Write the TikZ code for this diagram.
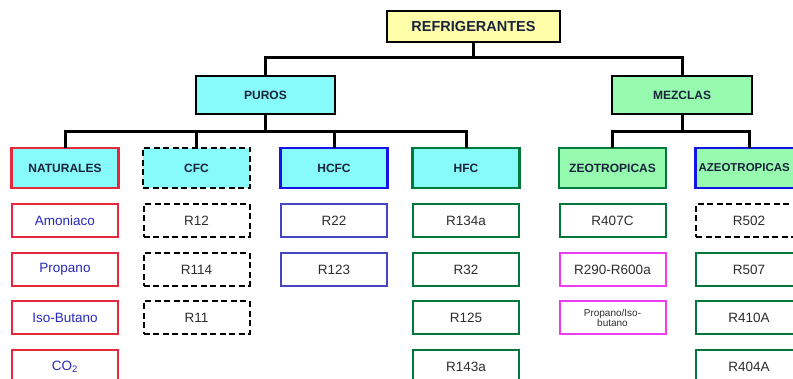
\documentclass[tikz,border=0pt]{standalone}
\usepackage{fontspec}
\setmainfont{Liberation Sans}

\definecolor{ylwfill}{RGB}{255,255,170}
\definecolor{cyanfill}{RGB}{135,250,250}
\definecolor{mintfill}{RGB}{150,250,175}
\definecolor{redline}{RGB}{230,40,60}
\definecolor{blueline}{RGB}{20,20,230}
\definecolor{slateline}{RGB}{70,70,190}
\definecolor{greenline}{RGB}{0,120,60}
\definecolor{magline}{RGB}{240,60,240}
\definecolor{headtext}{RGB}{25,35,60}
\definecolor{itemtext}{RGB}{45,45,45}
\definecolor{bluetext}{RGB}{40,40,190}

\tikzset{
  box/.style={draw, line width=2.8pt, minimum width=107pt, minimum height=40pt,
    inner sep=0pt, text=headtext, font=\fontsize{12}{13}\selectfont\bfseries},
  item/.style={draw, line width=2pt, fill=white, minimum width=106pt, minimum height=33pt,
    inner sep=0pt, text=itemtext, font=\fontsize{13.5}{14}\selectfont},
  dashbox/.style={dash pattern=on 6pt off 3.5pt},
  wire/.style={line width=3pt, line cap=rect},
}

\begin{document}
\begin{tikzpicture}[x=1pt,y=-1pt]
\useasboundingbox (0,0) rectangle (793,379);
\clip (0,0) rectangle (793,379);

% top levels
\node[box, fill=ylwfill, minimum width=173pt, minimum height=31pt,
  font=\fontsize{14.5}{15}\selectfont\bfseries] (ref) at (473.5,26.5) {REFRIGERANTES};
\node[box, fill=cyanfill, minimum width=139pt, minimum height=38pt] (puros) at (265.5,95) {PUROS};
\node[box, fill=mintfill, minimum width=140pt, minimum height=38pt] (mezclas) at (682,95) {MEZCLAS};

\coordinate (bus1) at (0,58);
\coordinate (bus2) at (0,132);

% families
\node[box, fill=cyanfill, draw=redline] (naturales) at (65,168) {NATURALES};
\node[box, fill=cyanfill, dashbox] (cfc) at (196.5,168) {CFC};
\node[box, fill=cyanfill, draw=blueline] (hcfc) at (334,168) {HCFC};
\node[box, fill=cyanfill, draw=greenline] (hfc) at (466,168) {HFC};
\node[box, fill=mintfill, draw=greenline] (zeo) at (612.5,168) {ZEOTROPICAS};
\node[box, fill=mintfill, draw=blueline, font=\fontsize{11.5}{12}\selectfont\bfseries]
  (azeo) at (749,168) {\makebox[101pt][l]{AZEOTROPICAS}};

% naturales
\node[item, draw=redline, text=bluetext] (amoniaco) at (65,220.5) {Amoniaco};
\node[item, draw=redline, text=bluetext] (propano) at (65,269.5) {Propano};
\node[item, draw=redline, text=bluetext] (isobutano) at (65,318) {Iso-Butano};
\node[item, draw=redline, text=bluetext] (co2) at (65,366.5) {CO\textsubscript{2}};

% cfc
\node[item, draw=black, dashbox] (r12) at (196.5,220.5) {R12};
\node[item, draw=black, dashbox] (r114) at (196.5,269.5) {R114};
\node[item, draw=black, dashbox] (r11) at (196.5,318) {R11};

% hcfc
\node[item, draw=slateline] (r22) at (334,220.5) {R22};
\node[item, draw=slateline] (r123) at (334,269.5) {R123};

% hfc
\node[item, draw=greenline] (r134a) at (466,220.5) {R134a};
\node[item, draw=greenline] (r32) at (466,269.5) {R32};
\node[item, draw=greenline] (r125) at (466,318) {R125};
\node[item, draw=greenline] (r143a) at (466,366.5) {R143a};

% zeotropicas
\node[item, draw=greenline] (r407c) at (612.5,220.5) {R407C};
\node[item, draw=magline] (r290) at (612.5,269.5) {R290-R600a};
\node[item, draw=magline, align=center, font=\fontsize{10}{10.5}\selectfont] (propiso) at (612.5,318) {Propano/Iso-\\butano};

% azeotropicas
\node[item, draw=black, dashbox] (r502) at (749,220.5) {R502};
\node[item, draw=greenline] (r507) at (749,269.5) {R507};
\node[item, draw=greenline] (r410a) at (749,318) {R410A};
\node[item, draw=greenline] (r404a) at (749,366.5) {R404A};

% connectors
\draw[wire] (ref.south) -- (ref.south |- bus1);
\draw[wire] (puros.north) -- (puros.north |- bus1) -| (mezclas.north);
\draw[wire] (puros.south) -- (puros.south |- bus2);
\draw[wire] (naturales.north) -- (naturales.north |- bus2) -| (hfc.north);
\draw[wire] (cfc.north) -- (cfc.north |- bus2);
\draw[wire] (hcfc.north) -- (hcfc.north |- bus2);
\draw[wire] (mezclas.south) -- (mezclas.south |- bus2);
\draw[wire] (zeo.north) -- (zeo.north |- bus2) -| (azeo.north);
\end{tikzpicture}
\end{document}
